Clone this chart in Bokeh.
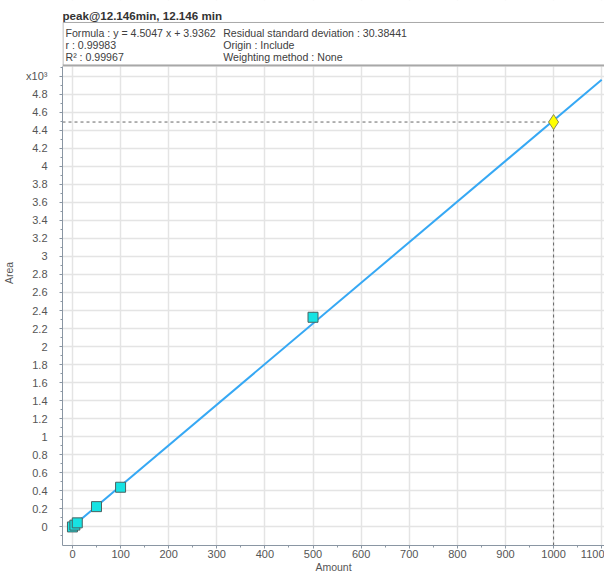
from bokeh.plotting import figure
from bokeh.models import Range1d, FixedTicker, Label, ColumnDataSource
from bokeh.embed import file_html
from bokeh.resources import INLINE

# ---- data ----
title_text = "peak@12.146min, 12.146 min"
info_col1 = ["Formula : y = 4.5047 x + 3.9362", "r : 0.99983", "R\u00b2 : 0.99967"]
info_col2 = ["Residual standard deviation : 30.38441", "Origin : Include", "Weighting method : None"]
x_title = "Amount"
y_title = "Area"

amount = [0, 5, 10, 50, 100, 500]
area = [0.0, 0.02, 0.045, 0.225, 0.44, 2.325]          # x10^3
slope = 4.5047 / 1000
intercept = 3.9362 / 1000
fit_x = [0, 1100]
unknown_x = [1000]
unknown_y = [4.49]

x_ticks = [0, 100, 200, 300, 400, 500, 600, 700, 800, 900, 1000, 1100]
x_minor = [50, 150, 250, 350, 450, 550, 650, 750, 850, 950, 1050]
y_ticks = [0, 0.2, 0.4, 0.6, 0.8, 1, 1.2, 1.4, 1.6, 1.8, 2, 2.2, 2.4, 2.6, 2.8,
           3, 3.2, 3.4, 3.6, 3.8, 4, 4.2, 4.4, 4.6, 4.8, 5]
y_labels = ["0", "0.2", "0.4", "0.6", "0.8", "1", "1.2", "1.4", "1.6", "1.8", "2", "2.2",
            "2.4", "2.6", "2.8", "3", "3.2", "3.4", "3.6", "3.8", "4", "4.2", "4.4",
            "4.6", "4.8", "x10\u00b3"]
y_minor = [-0.1, 0.1, 0.3, 0.5, 0.7, 0.9, 1.1, 1.3, 1.5, 1.7, 1.9, 2.1, 2.3, 2.5, 2.7,
           2.9, 3.1, 3.3, 3.5, 3.7, 3.9, 4.1, 4.3, 4.5, 4.7, 4.9, 5.1]

FONT = "Liberation Sans"
TXT = "#404040"

# ---- layout geometry (canvas pixels) ----
W, H = 604, 575
FRAME_LEFT = 61
X0, XPX = -20.7, 0.482          # x at frame left, px per unit
YB, YPX = -0.206, 90.3          # y at frame bottom, px per unit
PLOT_TOP = 5.107                 # top of the plotting area (just below the header)
HEADER_H = 66
y_top = PLOT_TOP + HEADER_H / YPX
x_end = X0 + (W - FRAME_LEFT) / XPX


def hx(px):
    return X0 + (px - FRAME_LEFT) / XPX


def hy(py):
    return y_top - py / YPX


p = figure(width=W, height=H, x_range=Range1d(X0, x_end), y_range=Range1d(YB, y_top),
           output_backend="svg", toolbar_location=None,
           min_border_left=FRAME_LEFT, min_border_right=0, min_border_top=0, min_border_bottom=20)
p.outline_line_color = None

p.xaxis.ticker = FixedTicker(ticks=x_ticks, minor_ticks=x_minor)
p.yaxis.ticker = FixedTicker(ticks=y_ticks, minor_ticks=y_minor)
p.yaxis.major_label_overrides = {t: l for t, l in zip(y_ticks, y_labels)}
p.yaxis.bounds = (YB, PLOT_TOP)
p.xgrid.grid_line_color = "#e4e4e4"
p.ygrid.grid_line_color = "#e4e4e4"
p.grid.grid_line_width = 1.5

for ax in (p.xaxis, p.yaxis):
    ax.axis_line_color = "#8a96a3"
    ax.major_tick_line_color = "#8a96a3"
    ax.minor_tick_line_color = "#8a96a3"
    ax.major_tick_out = 3
    ax.major_tick_in = 0
    ax.minor_tick_out = 2
    ax.minor_tick_in = 0
    ax.major_label_text_font = FONT
    ax.major_label_text_font_size = "11px"
    ax.major_label_text_color = "#555555"
    ax.major_label_text_line_height = 0.9
    ax.axis_label_text_font = FONT
    ax.axis_label_text_font_size = "10.5px"
    ax.axis_label_text_font_style = "normal"
    ax.axis_label_text_color = "#555555"
    ax.axis_label_text_line_height = 0.9

p.xaxis.axis_label = x_title
p.yaxis.axis_label = y_title
p.xaxis.major_label_standoff = 1
p.xaxis.axis_label_standoff = 0
p.yaxis.major_label_standoff = 12
p.yaxis.axis_label_standoff = 8

# ---- header (covers grid above plotting area) ----
p.quad(left=[X0], right=[x_end], bottom=[PLOT_TOP], top=[y_top],
       fill_color="white", line_color=None)
p.quad(left=[hx(61.5)], right=[x_end + 5], bottom=[hy(65)], top=[hy(22)],
       fill_color=None, line_color="#a8a8a8", line_width=1)
p.segment(x0=[hx(61)], x1=[x_end], y0=[hy(65)], y1=[hy(65)], line_color="#a8a8a8", line_width=2)
p.add_layout(Label(x=hx(61), y=hy(15), text=title_text, text_font=FONT, text_font_size="11.6px",
                   text_font_style="bold", text_color="#333333", text_baseline="middle"))
for i, (a, b) in enumerate(zip(info_col1, info_col2)):
    py = 33 + 12 * i
    p.add_layout(Label(x=hx(64), y=hy(py), text=a, text_font=FONT, text_font_size="10.6px",
                       text_color=TXT, text_baseline="middle"))
    p.add_layout(Label(x=hx(222), y=hy(py), text=b, text_font=FONT, text_font_size="10.6px",
                       text_color=TXT, text_baseline="middle"))

# fitted line
fit_src = ColumnDataSource(dict(x=fit_x, y=[slope * x + intercept for x in fit_x]))
p.line("x", "y", source=fit_src, line_color="#36a8f4", line_width=2)

# reference dashed lines to the unknown
p.line(x=[X0, unknown_x[0]], y=[unknown_y[0], unknown_y[0]], line_color="#666666",
       line_dash="3 3", line_width=1)
p.line(x=[unknown_x[0], unknown_x[0]], y=[YB, unknown_y[0]], line_color="#666666",
       line_dash="3 3", line_width=1)

# standards
p.scatter(amount, area, marker="square", size=10, fill_color="#17e3e3",
          line_color="#4a6262", line_width=1)
# unknown
p.scatter(unknown_x, unknown_y, marker="diamond", size=15, fill_color="#ffff00",
          line_color="#8a8a5a", line_width=1)

open("out.html", "w").write(file_html(p, INLINE))
